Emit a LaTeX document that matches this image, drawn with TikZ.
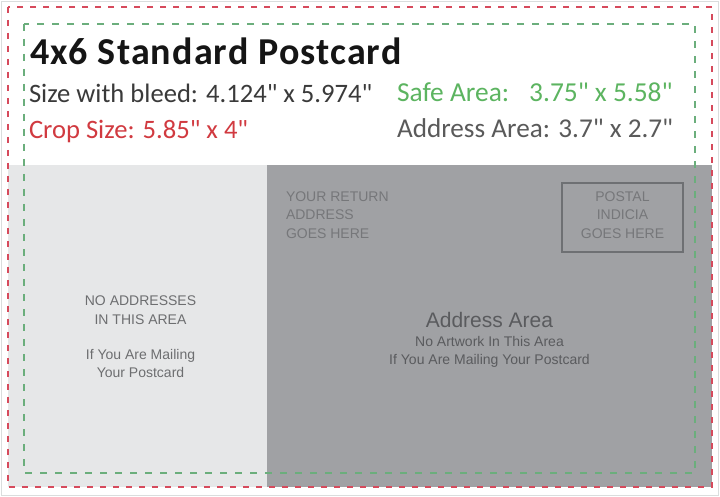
\documentclass[tikz,border=0pt]{standalone}
\usepackage{fontspec}
\setmainfont{Carlito}[Ligatures=TeXOff]
\newfontfamily\arialf{Liberation Sans}
\definecolor{framegray}{HTML}{DADDDD}
\definecolor{lightpanel}{HTML}{E6E7E8}
\definecolor{darkpanel}{HTML}{A0A1A4}
\definecolor{reddash}{HTML}{D64A5C}
\definecolor{greendash}{HTML}{6BAE7C}
\definecolor{titleblack}{HTML}{151515}
\definecolor{bodygray}{HTML}{3A3A3A}
\definecolor{cropred}{HTML}{D13A40}
\definecolor{safegreen}{HTML}{5CB460}
\definecolor{addrgray}{HTML}{5A5A5A}
\definecolor{lighttext}{HTML}{6D6E70}
\definecolor{darktext}{HTML}{76777A}
\definecolor{maintext}{HTML}{5A5B5E}
\definecolor{boxline}{HTML}{6E7073}
\begin{document}
\begin{tikzpicture}[x=1pt,y=-1pt,
  txt/.style={inner sep=0pt, outer sep=0pt},
  hdr/.style={txt, anchor=base west, font=\fontsize{26.6}{30}\selectfont},
  panelsmall/.style={txt, anchor=base, font=\arialf\fontsize{14}{16}\selectfont},
  reddashed/.style={draw=reddash, line width=2pt, dash pattern=on 6pt off 7pt},
  greendashed/.style={draw=greendash, line width=2pt, dash pattern=on 7pt off 8pt}]
\useasboundingbox (0,0) rectangle (720,497);
\fill[white] (0,0) rectangle (720,497);
\draw[framegray, line width=1pt] (1.5,1.5) rectangle (718.5,495.5);
% panels
\fill[lightpanel] (8,165) rectangle (267,487);
\fill[darkpanel] (267,165) rectangle (712,487);
% guide lines
\draw[greendashed] (24,24) rectangle (695,473);
\draw[reddashed] (8,7) rectangle (712,487);
% postal box
\draw[boxline, line width=1.5pt] (562,183) rectangle (683,252);
% header
\node[txt, anchor=base west, text=titleblack, font=\bfseries\fontsize{38}{42}\selectfont\addfontfeature{LetterSpace=3}] (title) at (30,65) {4x6 Standard Postcard};
\node[hdr, text=bodygray] (bleed) at (29,102.5) {Size with bleed: 4.124" x 5.974"};
\node[hdr, text=cropred] (crop) at (29,139) {Crop Size: 5.85" x 4"};
\node[hdr, text=safegreen, font=\fontsize{27.4}{30}\selectfont] (safe) at (397,102) {Safe Area:\hspace{20pt}3.75" x 5.58"};
\node[hdr, text=addrgray, font=\fontsize{27.2}{30}\selectfont] (addr) at (397,138) {Address Area: 3.7" x 2.7"};
% left panel
\node[panelsmall, text=lighttext] (noaddr1) at (140.5,305.5) {NO ADDRESSES};
\node[panelsmall, text=lighttext] (noaddr2) at (140.5,324) {IN THIS AREA};
\node[panelsmall, text=lighttext] (mail1) at (140.5,359) {If You Are Mailing};
\node[panelsmall, text=lighttext] (mail2) at (140.5,377) {Your Postcard};
% return address
\node[panelsmall, anchor=base west, text=darktext] (ret1) at (286,202) {YOUR RETURN};
\node[panelsmall, anchor=base west, text=darktext] (ret2) at (286,220) {ADDRESS};
\node[panelsmall, anchor=base west, text=darktext] (ret3) at (286,238) {GOES HERE};
% postal indicia
\node[panelsmall, text=darktext] (post1) at (622.5,202) {POSTAL};
\node[panelsmall, text=darktext] (post2) at (622.5,220) {INDICIA};
\node[panelsmall, text=darktext] (post3) at (622.5,238) {GOES HERE};
% address area
\node[txt, anchor=base, text=maintext, font=\arialf\fontsize{21}{24}\selectfont] (areatitle) at (489.5,327) {Address Area};
\node[panelsmall, text=maintext] (area1) at (489.5,346.5) {No Artwork In This Area};
\node[panelsmall, text=maintext] (area2) at (489.5,364) {If You Are Mailing Your Postcard};
\end{tikzpicture}
\end{document}
